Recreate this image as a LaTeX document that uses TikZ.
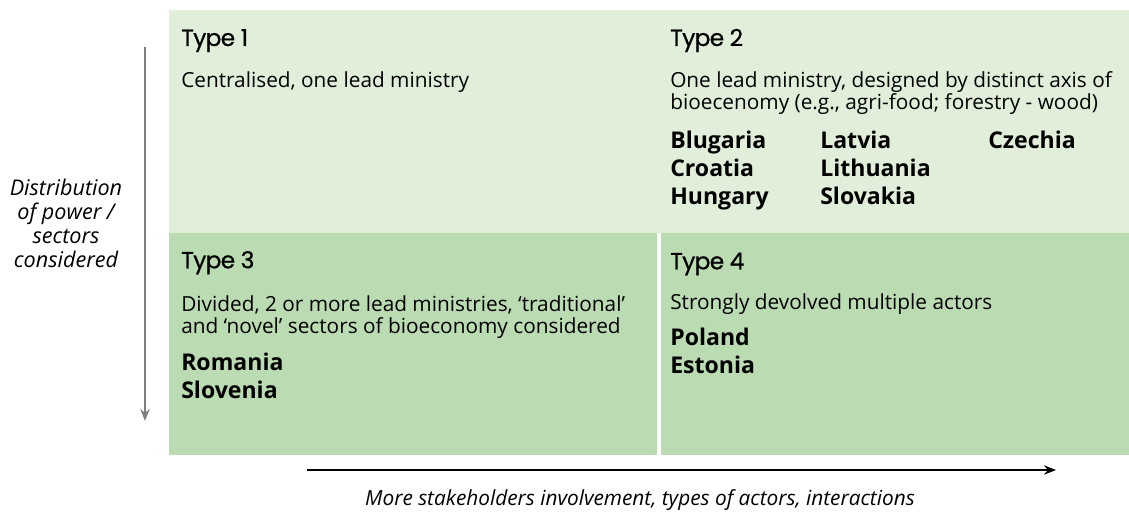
\documentclass[tikz,border=0pt]{standalone}
\usepackage{fontspec}
\setmainfont{Open Sans}
\newfontfamily\headfont[LetterSpace=-3,FakeBold=0.7]{Poppins}
\usetikzlibrary{arrows.meta}
\definecolor{lightgr}{HTML}{E1EFDA}
\definecolor{midgr}{HTML}{BBDBB2}
\definecolor{axisgray}{HTML}{7F7F7F}
\tikzset{
  head/.style={anchor=base west,inner sep=0pt,font=\headfont\fontsize{17.5}{20}\selectfont},
  desc/.style={anchor=base west,inner sep=0pt,align=left,font=\fontsize{15.6}{17}\selectfont},
  ctry/.style={anchor=base west,inner sep=0pt,align=left,font=\bfseries\fontsize{17.3}{21.2}\selectfont},
  axlabel/.style={inner sep=0pt,align=center,font=\itshape\fontsize{15.6}{18}\selectfont},
}
\begin{document}
\begin{tikzpicture}[x=0.75pt,y=-0.75pt]
\useasboundingbox (0,0) rectangle (1129,513);
% panels
\fill[lightgr] (169,10) rectangle (1129,233);
\fill[midgr] (169,233) rectangle (657,455);
\fill[midgr] (661,233) rectangle (1129,455);
% Type 1 (multi-line nodes are placed at the baseline of their last line)
\node[head] (t1) at (181,46) {Type 1};
\node[desc] (d1) at (181,87.3) {Centralised, one lead ministry};
% Type 2
\node[head] (t2) at (670,46) {Type 2};
\node[desc] (d2) at (670,110) {One lead ministry, designed by distinct axis of\\bioecenomy (e.g., agri-food; forestry - wood)};
\node[ctry] (c2a) at (670,205) {Blugaria\\Croatia\\Hungary};
\node[ctry] (c2b) at (820,205) {Latvia\\Lithuania\\Slovakia};
\node[ctry] (c2c) at (988,148.3) {Czechia};
% Type 3
\node[head] (t3) at (181,268.3) {Type 3};
\node[desc] (d3) at (181,334) {Divided, 2 or more lead ministries, ‘traditional’\\and ‘novel’ sectors of bioeconomy considered};
\node[ctry] (c3) at (181,398.3) {Romania\\Slovenia};
% Type 4
\node[head] (t4) at (670,269.3) {Type 4};
\node[desc] (d4) at (670,310) {Strongly devolved multiple actors};
\node[ctry] (c4) at (670,373.3) {Poland\\Estonia};
% axes
\coordinate (vtop) at (145,47);
\coordinate (vbot) at (145,421);
\draw[axisgray,line width=1.6pt,-{Stealth[length=9pt,width=7pt]}] (vtop) -- (vbot);
\node[axlabel,font=\itshape\fontsize{16.2}{18}\selectfont] (vlab) at (66,223) {Distribution\\of power /\\sectors\\considered};
\coordinate (hl) at (307,470);
\coordinate (hr) at (1056,470);
\draw[black,line width=1pt,-{Stealth[length=9pt,width=7pt]}] (hl) -- (hr);
\node[axlabel,anchor=base] (hlab) at (640,505) {More stakeholders involvement, types of actors, interactions};
\end{tikzpicture}
\end{document}
